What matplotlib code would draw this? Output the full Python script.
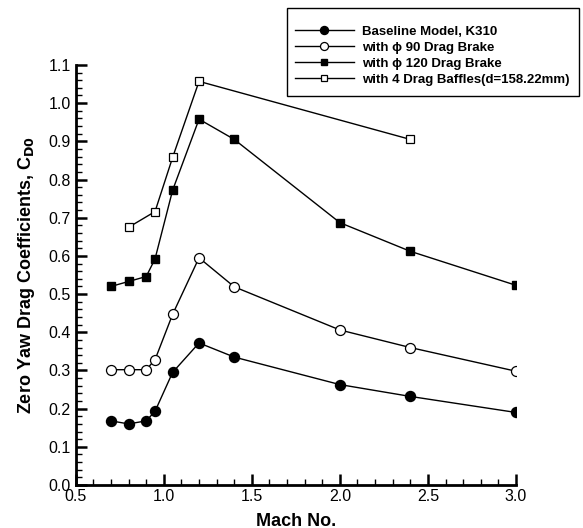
import numpy as np
import matplotlib.pyplot as plt
from matplotlib.patches import Rectangle
from matplotlib.ticker import MultipleLocator

plt.rcParams.update({
    'font.family': ['Liberation Sans', 'DejaVu Sans'],
    'font.size': 10,
})

# Mach numbers and zero-yaw drag coefficients
mach = [0.7, 0.8, 0.9, 0.95, 1.05, 1.2, 1.4, 2.0, 2.4, 3.0]
cd_baseline = [0.168, 0.160, 0.168, 0.193, 0.295, 0.372, 0.335, 0.263, 0.232, 0.190]
cd_brake90 = [0.302, 0.302, 0.302, 0.328, 0.447, 0.595, 0.519, 0.406, 0.360, 0.298]
cd_brake120 = [0.520, 0.533, 0.546, 0.592, 0.772, 0.958, 0.905, 0.687, 0.612, 0.523]

mach_baffles = [0.8, 0.95, 1.05, 1.2, 2.4]
cd_baffles = [0.675, 0.716, 0.858, 1.057, 0.905]

labels = ['Baseline Model, K310',
          'with \u03d5 90 Drag Brake',
          'with \u03d5 120 Drag Brake',
          'with 4 Drag Baffles(d=158.22mm)']

fig = plt.figure(figsize=(5.83, 5.28), dpi=100)
ax = fig.add_axes([0.130, 0.0814, 0.755, 0.7956])

lw = 1.0
h1, = ax.plot(mach, cd_baseline, '-', color='k', lw=lw, marker='o', ms=7.2,
              mfc='k', mec='k')
h2, = ax.plot(mach, cd_brake90, '-', color='k', lw=lw, marker='o', ms=7.2,
              mfc='white', mec='k', mew=0.9)
h3, = ax.plot(mach, cd_brake120, '-', color='k', lw=lw, marker='s', ms=5.2,
              mfc='k', mec='k')
h4, = ax.plot(mach_baffles, cd_baffles, '-', color='k', lw=lw, marker='s', ms=5.2,
              mfc='white', mec='k', mew=0.9)

ax.set_xlim(0.5, 3.0)
ax.set_ylim(0.0, 1.1)
ax.xaxis.set_major_locator(MultipleLocator(0.5))
ax.xaxis.set_minor_locator(MultipleLocator(0.1))
ax.yaxis.set_major_locator(MultipleLocator(0.1))
ax.yaxis.set_minor_locator(MultipleLocator(0.02))
ax.xaxis.set_major_formatter(plt.FormatStrFormatter('%.1f'))
ax.yaxis.set_major_formatter(plt.FormatStrFormatter('%.1f'))

for s in ['top', 'right']:
    ax.spines[s].set_visible(False)
for s in ['left', 'bottom']:
    ax.spines[s].set_linewidth(2.0)

ax.tick_params(which='major', direction='in', length=8, width=1.8, labelsize=11.5)
ax.tick_params(which='minor', direction='in', length=4, width=1.0)
ax.tick_params(axis='x', pad=3)

ax.set_xlabel('Mach No.', fontsize=13, fontweight='bold', labelpad=6)
ax.set_ylabel('Zero Yaw Drag Coefficients, C$_{\\mathbf{D0}}$', fontsize=13,
              fontweight='bold', labelpad=8)

# legend entries without their own frame; the box is drawn separately
leg = fig.legend([h1, h2, h3, h4], labels, loc='upper left',
                 bbox_to_anchor=(0.506, 0.951), borderaxespad=0, borderpad=0,
                 frameon=False, handlelength=4.45, handletextpad=0.65,
                 labelspacing=0.28, markerscale=0.8,
                 prop={'weight': 'bold', 'size': 9.5})
fig.patches.append(Rectangle((0.4923, 0.8182), 0.5009, 0.1667,
                             transform=fig.transFigure, fill=False,
                             edgecolor='k', lw=1.0))

fig.savefig('out.png', dpi=100)
